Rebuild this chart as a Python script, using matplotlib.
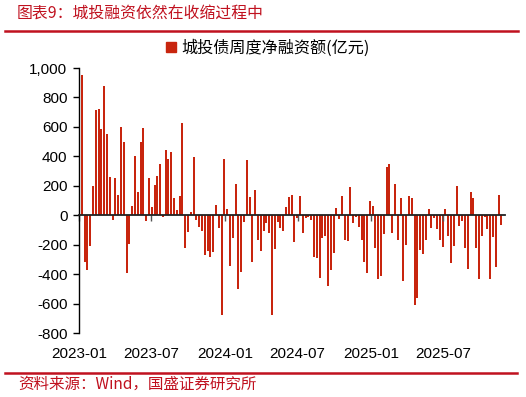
import numpy as np
import pandas as pd
import matplotlib
matplotlib.use('Agg')
import matplotlib.pyplot as plt
import matplotlib.dates as mdates
from matplotlib.lines import Line2D

# weekly net financing of LGFV bonds (100m yuan)
start_date = '2023-01-01'
net_finance = [380, 950, -320, -370, -210, 200, 715, 720, 585, 880,
               550, 260, -35, 255, 135, 600, 495, -390, -195, 65,
               405, 160, 495, 595, -40, 250, 55, 205, 265, 350,
               -10, 440, 380, 430, 120, 35, 130, 625, -225, -115,
               25, 395, -35, -80, -105, -270, -240, -285, -250, 70,
               -85, -680, 380, 40, -345, -155, 210, -500, -385, -45,
               375, 125, -315, 170, -170, -240, -105, -50, -120, -680,
               -230, -45, -85, -105, 55, 125, 135, -180, -20, 130,
               -120, -20, -10, -35, -285, -290, -425, -155, -140, -480,
               -375, -255, 50, -25, 130, -165, -175, 190, -50, -10,
               -80, -170, -315, -395, 95, 65, -220, -430, -410, -130,
               325, 345, -120, 215, -170, 120, -450, -200, 130, 115,
               -610, -565, -235, -260, -165, 45, -90, -20, -95, -165,
               -215, 45, -140, -325, -210, 200, -70, -40, -225, -365,
               155, 115, -225, -430, -140, -15, -95, -430, -150, -350,
               140, -65]
dates = pd.date_range(start_date, periods=len(net_finance), freq='7D')

tick_labels = ['2023-01', '2023-07', '2024-01', '2024-07', '2025-01', '2025-07']
yticks = list(range(-800, 1001, 200))

title = '图表9：城投融资依然在收缩过程中'
legend_label = '城投债周度净融资额(亿元)'
source = '资料来源：Wind，国盛证券研究所'

red = '#C8250E'
dark_red = '#C0111F'
cjk = ['Noto Sans CJK SC', 'DejaVu Sans']

plt.rcParams['font.family'] = ['Liberation Sans', 'Noto Sans CJK SC']

fig = plt.figure(figsize=(5.26, 3.97), dpi=100)
ax = fig.add_axes([0.1494, 0.1612, 0.8106, 0.6675])

bars = ax.bar(dates, net_finance, width=5, color=red, linewidth=0)

ax.set_ylim(-800, 1000)
ax.set_xlim(pd.Timestamp('2022-12-31'), pd.Timestamp('2025-12-02'))
ax.set_yticks(yticks)
ax.set_yticklabels([f'{v:,}' for v in yticks], fontsize=11)
ax.tick_params(axis='y', direction='out', length=4, width=1, pad=4)

ax.spines['top'].set_visible(False)
ax.spines['right'].set_visible(False)
ax.spines['left'].set_linewidth(1)
ax.spines['bottom'].set_position(('data', 0))
ax.spines['bottom'].set_linewidth(1.3)
ax.spines['bottom'].set_color('#222222')

tick_pos = mdates.date2num(pd.to_datetime(tick_labels))
ax.set_xticks(tick_pos)
ax.tick_params(axis='x', direction='out', length=4, width=1, color='#555555',
               labelbottom=False)

# labels sit at the bottom of the plot
sec = ax.secondary_xaxis(0)
sec.set_xticks(tick_pos, labels=tick_labels)
sec.spines['bottom'].set_visible(False)
sec.tick_params(axis='x', length=0, pad=10, labelsize=11)

handle = Line2D([], [], marker='s', color=red, linestyle='none', markersize=7.5)
fig.legend([handle], [legend_label], loc='center', bbox_to_anchor=(0.506, 0.879),
           frameon=False, handletextpad=0.1, handlelength=1.0, borderaxespad=0,
           prop={'family': cjk, 'size': 11.6})

fig.text(0.032, 0.967, title, color=dark_red, fontsize=11.4, family=cjk,
         style='italic', va='center', ha='left')
fig.text(0.034, 0.033, source, color=dark_red, fontsize=11.2, family=cjk,
         style='italic', va='center', ha='left')

fig.add_artist(Line2D([0.01, 0.985], [0.922, 0.922], color=dark_red, lw=1.8))
fig.add_artist(Line2D([0.01, 0.983], [0.061, 0.061], color=dark_red, lw=1.8))

fig.savefig('out.png', dpi=100)
